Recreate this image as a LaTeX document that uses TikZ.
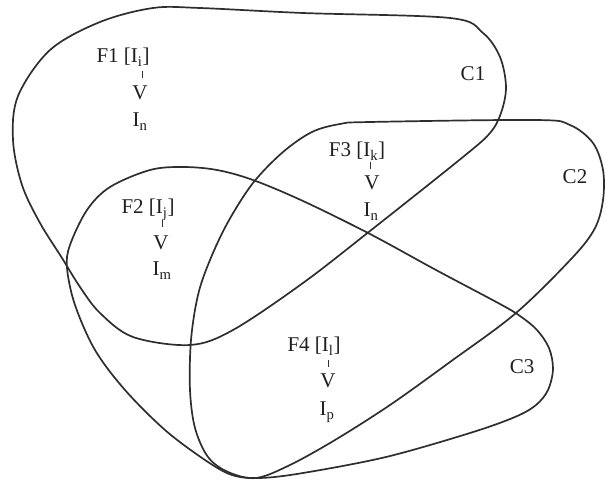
\documentclass[tikz,border=0pt]{standalone}
\usepackage{fontspec}
\setmainfont{Liberation Serif}
\begin{document}
\begin{tikzpicture}[x=1pt,y=-1pt,
  contour/.style={draw=black!82,line width=1.7pt,line join=round},
  lbl/.style={inner sep=0pt,anchor=base,font=\fontsize{21}{24}\selectfont,text=black!88},
  cname/.style={inner sep=0pt,anchor=center,font=\fontsize{21}{24}\selectfont,text=black!88},
  tk/.style={fill=black!80,inner sep=0pt,minimum width=0.9pt,minimum height=7pt,anchor=south}]
\useasboundingbox (0,0) rectangle (606,481);
% C1
\draw[contour] plot[smooth cycle,tension=0.55] coordinates {
 (153,8) (200,8) (303,13) (450,18) (483,33) (500,57) (506,87) (501,113) (490,133)
 (463,157) (370,231) (303,283) (233,330) (190,345) (133,337) (100,313) (80,287)
 (62,258) (40,223) (22,185) (13,140) (18,96) (50,50) (100,22)};
% C2
\draw[contour] plot[smooth cycle,tension=0.55] coordinates {
 (340,124) (370,122) (536,120) (570,125) (593,143) (603,170) (603,200) (595,228)
 (573,257) (516,313) (450,362) (390,405) (335,440) (290,465) (256,478) (228,472)
 (208,457) (195,428) (190,390) (191,340) (198,295) (210,260) (228,222) (253,183) (283,152) (312,132)};
% C3
\draw[contour] plot[smooth cycle,tension=0.55] coordinates {
 (70,245) (87,210) (110,187) (150,170) (183,167) (217,170) (253,180) (303,201)
 (370,234) (436,270) (500,304) (520,316) (537,330) (549,348) (553,369) (548,390)
 (536,405) (515,417) (470,433) (386,457) (303,473) (260,478) (232,475) (205,460)
 (165,430) (125,390) (95,350) (75,305) (67,268)};
% texts
\node[lbl] (f1) at (123,63) {F1 [I\textsubscript{i}]};
\node[tk] (t1) at (142,78) {};
\node[lbl] (v1) at (140,100) {V};
\node[lbl] (i1) at (140,127) {I\textsubscript{n}};
\node[lbl] (f2) at (148,214) {F2 [I\textsubscript{j}]};
\node[tk] (t2) at (162,227) {};
\node[lbl] (v2) at (161,250) {V};
\node[lbl] (i2) at (162,276) {I\textsubscript{m}};
\node[lbl] (f3) at (357,157) {F3 [I\textsubscript{k}]};
\node[tk] (t3) at (370,169) {};
\node[lbl] (v3) at (372,190) {V};
\node[lbl] (i3) at (371,217) {I\textsubscript{n}};
\node[lbl] (f4) at (314,352) {F4 [I\textsubscript{l}]};
\node[tk] (t4) at (328,367) {};
\node[lbl] (v4) at (328,388) {V};
\node[lbl] (i4) at (327,416) {I\textsubscript{p}};
\node[cname] (c1) at (473,74) {C1};
\node[cname] (c2) at (575,177) {C2};
\node[cname] (c3) at (522,367) {C3};
\end{tikzpicture}
\end{document}
